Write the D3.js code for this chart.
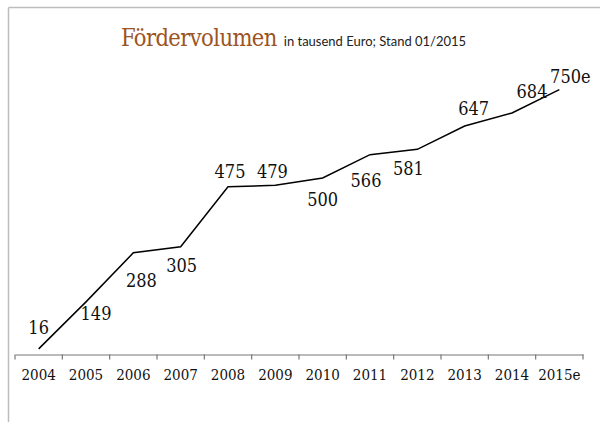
<!DOCTYPE html>
<html>
<head>
<meta charset="utf-8">
<script src="https://cdn.jsdelivr.net/npm/d3@7"></script>
<style>
  body { margin: 0; background: #fff; }
  .serif { font-family: "DejaVu Serif Condensed", "DejaVu Serif", serif; font-stretch: condensed; }
</style>
</head>
<body>
<div id="chart"></div>
<script>
// Chart data
var years = ["2004", "2005", "2006", "2007", "2008", "2009", "2010", "2011", "2012", "2013", "2014", "2015e"];
var volumes = [16, 149, 288, 305, 475, 479, 500, 566, 581, 647, 684, 750];
var valueLabels = ["16", "149", "288", "305", "475", "479", "500", "566", "581", "647", "684", "750e"];

// Label nudges relative to each point (layout only)
var labelDx = [0, 10, 8, 1, 2, -3, 0, -4, -9, 9, 20, 11];
var labelDy = [-15, 18, 34, 25, -9, -7, 28, 32, 26, -11, -15, -7];

var w = 600, h = 422;

var svg = d3.select("#chart")
    .append("svg")
    .attr("width", w)
    .attr("height", h);

// Frame (top and left borders)
svg.append("line")
    .attr("x1", 8.5).attr("y1", 7.5).attr("x2", w).attr("y2", 7.5)
    .attr("stroke", "#bdbdbd").attr("stroke-width", 1.5);
svg.append("line")
    .attr("x1", 8.5).attr("y1", 7.5).attr("x2", 8.5).attr("y2", h)
    .attr("stroke", "#bdbdbd").attr("stroke-width", 1.5);

// Title
var title = svg.append("text")
    .attr("x", 121)
    .attr("y", 46);
title.append("tspan")
    .attr("class", "serif")
    .attr("font-size", "23.5px")
    .attr("letter-spacing", "-0.6px")
    .attr("fill", "#9c5421")
    .text("Fördervolumen");
title.append("tspan")
    .attr("dx", 7)
    .attr("font-family", "Lato, 'Open Sans', sans-serif")
    .attr("font-size", "13px")
    .attr("fill", "#222")
    .text("in tausend Euro; Stand 01/2015");

// Scales
var xScale = d3.scaleBand()
    .domain(years)
    .range([15, 583]);

var yScale = d3.scaleLinear()
    .domain([0, 800])
    .range([354.5, 72]);

// X axis
var xAxis = d3.axisBottom(xScale)
    .tickSizeInner(0)
    .tickSizeOuter(0)
    .tickPadding(15);

var gx = svg.append("g")
    .attr("transform", "translate(0," + 354.5 + ")")
    .call(xAxis);
gx.select(".domain").attr("stroke", "#777").attr("stroke-width", 1.2);
gx.selectAll("text")
    .attr("class", "serif")
    .attr("font-size", "15px")
    .attr("fill", "#111");

// Tick marks on the band boundaries
var boundaries = d3.range(years.length + 1).map(function(i) {
    return xScale.range()[0] + i * xScale.step();
});
gx.selectAll(".bound")
    .data(boundaries)
    .enter()
    .append("line")
    .attr("class", "bound")
    .attr("x1", function(d) { return d; })
    .attr("x2", function(d) { return d; })
    .attr("y1", 0)
    .attr("y2", 5)
    .attr("stroke", "#777")
    .attr("stroke-width", 1.2);

// Line
var line = d3.line()
    .x(function(d, i) { return xScale(years[i]) + xScale.bandwidth() / 2; })
    .y(function(d) { return yScale(d); });

svg.append("path")
    .datum(volumes)
    .attr("d", line)
    .attr("fill", "none")
    .attr("stroke", "#000")
    .attr("stroke-width", 1.5);

// Value labels
svg.selectAll(".label")
    .data(volumes)
    .enter()
    .append("text")
    .attr("class", "label serif")
    .text(function(d, i) { return valueLabels[i]; })
    .attr("x", function(d, i) {
        return xScale(years[i]) + xScale.bandwidth() / 2 + labelDx[i];
    })
    .attr("y", function(d, i) {
        return yScale(d) + labelDy[i];
    })
    .attr("text-anchor", "middle")
    .attr("font-size", "18px")
    .attr("fill", "#111");
</script>
</body>
</html>
